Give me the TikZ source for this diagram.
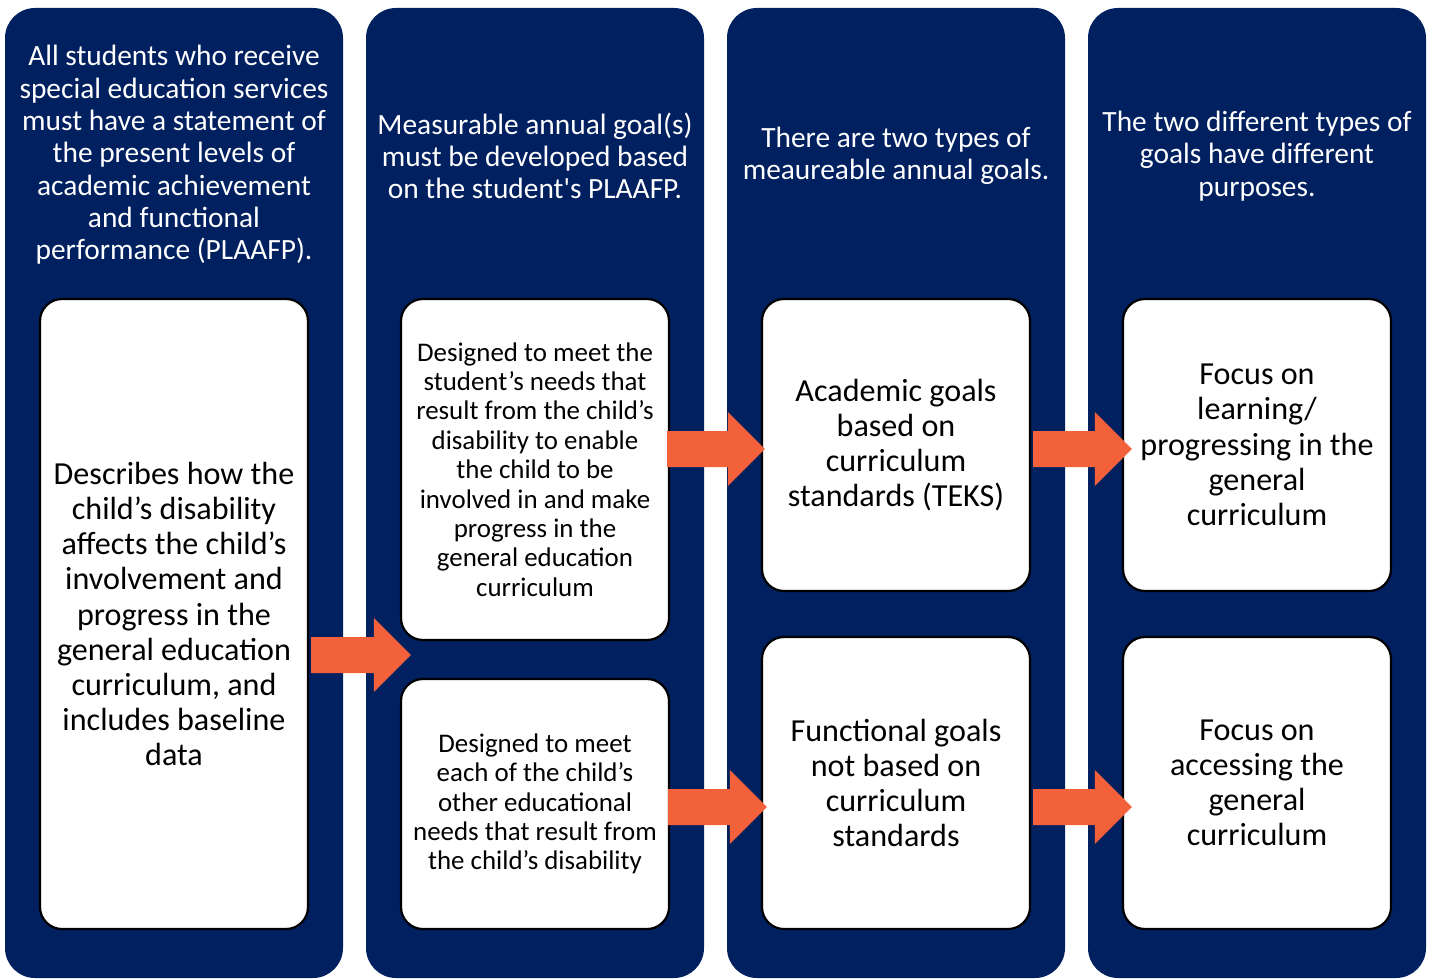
\documentclass[tikz,border=0pt]{standalone}
\usepackage{fontspec}
\setmainfont{Carlito}
\newfontfamily\plainquote{Carlito}
\definecolor{navy}{RGB}{0,32,96}
\definecolor{arrowor}{RGB}{243,97,58}
\usetikzlibrary{calc}
\tikzset{
  col/.style={fill=navy, rounded corners=30},
  hdr/.style={text=white, align=center, font=\fontsize{29.4}{32.3}\selectfont},
  wbox/.style={draw=black, line width=2.2, fill=white, rounded corners=22, align=center},
  bigtxt/.style={font=\fontsize{32.1}{35.2}\selectfont},
  smtxt/.style={font=\fontsize{26.9}{29.4}\selectfont},
}
\newcommand{\blockarrow}[2]{%
  \fill[arrowor] ($(#1)+(0,18)$) -- ($(#2)+(-37,18)$) -- ($(#2)+(-37,37)$) -- (#2)
   -- ($(#2)+(-37,-37)$) -- ($(#2)+(-37,-18)$) -- ($(#1)+(0,-18)$) -- cycle;}
\begin{document}
\begin{tikzpicture}[x=1pt,y=-1pt]
\useasboundingbox (0,0) rectangle (1432,979);
% columns
\fill[col] (5,8) rectangle (343,978);
\fill[col] (366,8) rectangle (704,978);
\fill[col] (727,8) rectangle (1065,978);
\fill[col] (1088,8) rectangle (1426,978);
% headers
\node[hdr] (h1) at (174,155) {All students who receive\\special education services\\must have a statement of\\the present levels of\\academic achievement\\and functional\\performance (PLAAFP).};
\node[hdr] (h2) at (535,156) {Measurable annual goal(s)\\must be developed based\\on the student{\plainquote '}s PLAAFP.};
\node[hdr] (h3) at (896,156) {There are two types of\\meaureable annual goals.};
\node[hdr] (h4) at (1257,156) {The two different types of\\goals have different\\purposes.};
% boxes
\node[wbox, bigtxt, minimum width=268, minimum height=630] (b1) at (174,614) {Describes how the\\child’s disability\\affects the child’s\\involvement and\\progress in the\\general education\\curriculum, and\\includes baseline\\data};
\node[wbox, smtxt, minimum width=268, minimum height=341] (b2t) at (535,469.5) {Designed to meet the\\student’s needs that\\result from the child’s\\disability to enable\\the child to be\\involved in and make\\progress in the\\general education\\curriculum};
\node[wbox, smtxt, minimum width=268, minimum height=250] (b2b) at (535,804) {Designed to meet\\each of the child’s\\other educational\\needs that result from\\the child’s disability};
\node[wbox, bigtxt, minimum width=268, minimum height=292] (b3t) at (896,445) {Academic goals\\based on\\curriculum\\standards (TEKS)};
\node[wbox, bigtxt, minimum width=268, minimum height=292] (b3b) at (896,783) {Functional goals\\not based on\\curriculum\\standards};
\node[wbox, bigtxt, minimum width=268, minimum height=292] (b4t) at (1257,445) {Focus on\\learning/\\progressing in the\\general\\curriculum};
\node[wbox, bigtxt, minimum width=268, minimum height=292] (b4b) at (1257,783) {Focus on\\accessing the\\general\\curriculum};
% arrow coordinates
\coordinate (a1s) at ($(b1.east |- 0,655)+(2,0)$);
\coordinate (a1t) at ($(b2t.west |- 0,655)+(11,0)$);
\coordinate (a2s) at ($(b2t.east |- 0,449)+(-3,0)$);
\coordinate (a2t) at ($(b3t.west |- 0,449)+(4,0)$);
\coordinate (a3s) at ($(b2b.east |- 0,807)+(-2,0)$);
\coordinate (a3t) at ($(b3b.west |- 0,807)+(6,0)$);
\coordinate (a4s) at ($(b3t.east |- 0,449)+(2,0)$);
\coordinate (a4t) at ($(b4t.west |- 0,449)+(10,0)$);
\coordinate (a5s) at ($(b3b.east |- 0,807)+(2,0)$);
\coordinate (a5t) at ($(b4b.west |- 0,807)+(10,0)$);
\blockarrow{a1s}{a1t}
\blockarrow{a2s}{a2t}
\blockarrow{a3s}{a3t}
\blockarrow{a4s}{a4t}
\blockarrow{a5s}{a5t}
\end{tikzpicture}
\end{document}
